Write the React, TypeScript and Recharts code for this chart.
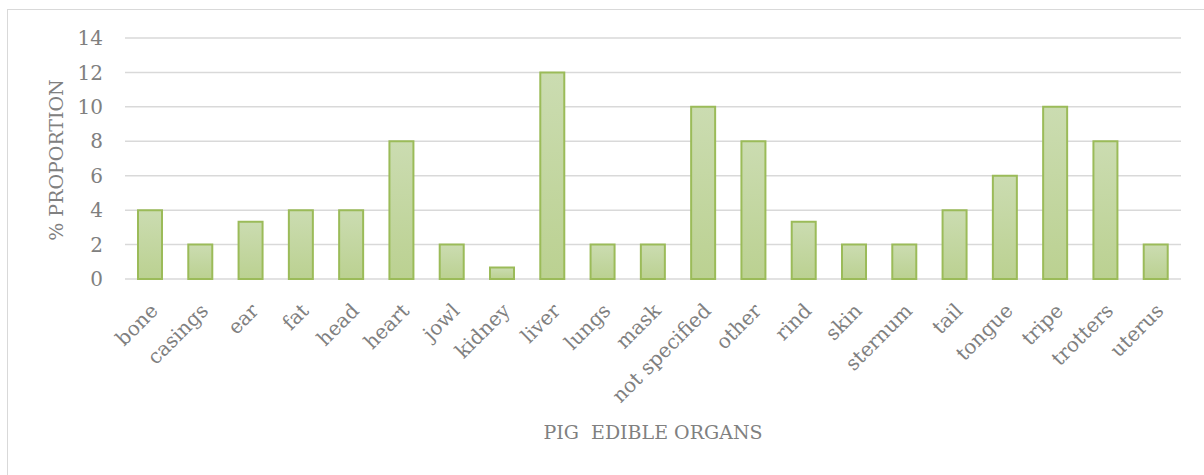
import React from 'react';
import { BarChart, Bar, XAxis, YAxis, CartesianGrid, Label } from 'recharts';

const organs = [
  'bone', 'casings', 'ear', 'fat', 'head', 'heart', 'jowl', 'kidney', 'liver', 'lungs', 'mask',
  'not specified', 'other', 'rind', 'skin', 'sternum', 'tail', 'tongue', 'tripe', 'trotters', 'uterus',
];
const proportions = [4, 2, 3.33, 4, 4, 8, 2, 0.67, 12, 2, 2, 10, 8, 3.33, 2, 2, 4, 6, 10, 8, 2];
const yTicks = [0, 2, 4, 6, 8, 10, 12, 14];

const data = organs.map((organ, i) => ({ organ, value: proportions[i] }));

const FONT = '"DejaVu Serif", serif';
const TEXT = '#808080';
const GRID = '#d9d9d9';

function OrganTick(props: any) {
  const { x, y, payload } = props;
  const tx = x + 9;
  const ty = y + 25;
  return (
    <text
      x={tx}
      y={ty}
      transform={`rotate(-45, ${tx}, ${ty})`}
      textAnchor="end"
      fill={TEXT}
      fontSize={20}
      fontFamily={FONT}
    >
      {payload.value}
    </text>
  );
}

export default function App() {
  return (
    <div style={{ position: 'fixed', left: 0, top: 0, width: 1204, height: 475, overflow: 'hidden', background: '#fff' }}>
      {/* chart frame, cut off at the right and bottom like the source image */}
      <div
        style={{
          position: 'absolute', left: 7, top: 9, width: 1400, height: 700,
          border: `1.5px solid ${GRID}`, boxSizing: 'border-box',
        }}
      />
      <div style={{ position: 'absolute', left: 0, top: 0 }}>
        <BarChart width={1204} height={475} data={data} margin={{ top: 38, right: 23, left: 0, bottom: 46 }}>
          <defs>
            <linearGradient id="barFill" x1="0" y1="0" x2="0" y2="1">
              <stop offset="0%" stopColor="#cbdcb1" />
              <stop offset="100%" stopColor="#bbd191" />
            </linearGradient>
          </defs>
          <CartesianGrid vertical={false} stroke={GRID} strokeWidth={1.5} />
          <XAxis
            dataKey="organ"
            interval={0}
            height={150}
            axisLine={false}
            tickLine={false}
            tick={<OrganTick />}
          >
            <Label
              content={() => (
                <text x={653} y={439} textAnchor="middle" fill={TEXT} fontSize={19} fontFamily={FONT}>
                  PIG{'\u00a0'} EDIBLE ORGANS
                </text>
              )}
            />
          </XAxis>
          <YAxis
            width={125}
            domain={[0, 14]}
            ticks={yTicks}
            axisLine={false}
            tickLine={false}
            tickMargin={16}
            tick={{ fill: TEXT, fontSize: 20, fontFamily: FONT }}
          >
            <Label
              content={() => (
                <text
                  x={63}
                  y={160}
                  transform="rotate(-90, 63, 160)"
                  textAnchor="middle"
                  fill={TEXT}
                  fontSize={19}
                  fontFamily={FONT}
                >
                  % PROPORTION
                </text>
              )}
            />
          </YAxis>
          <Bar
            dataKey="value"
            barSize={24}
            fill="url(#barFill)"
            stroke="#9bbb59"
            strokeWidth={2}
            isAnimationActive={false}
          />
        </BarChart>
      </div>
    </div>
  );
}
